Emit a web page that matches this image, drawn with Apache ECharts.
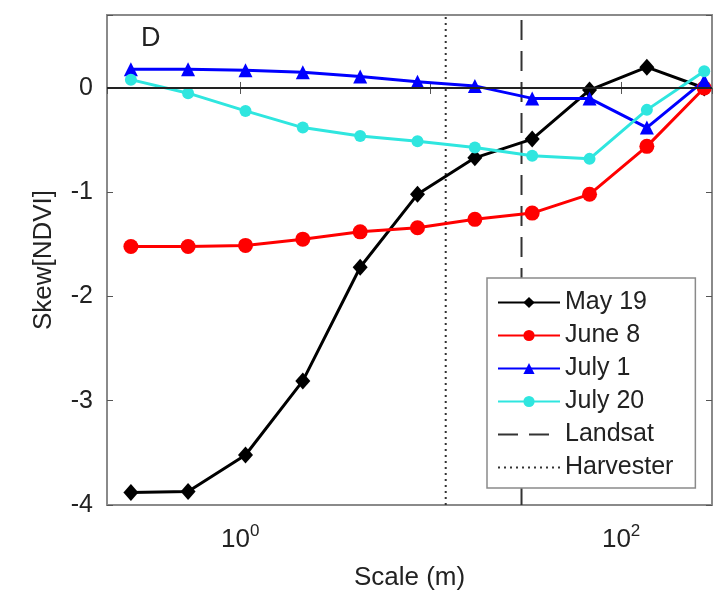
<!DOCTYPE html>
<html>
<head>
<meta charset="utf-8">
<script src="https://cdn.jsdelivr.net/npm/echarts@6/dist/echarts.min.js"></script>
<style>
  html, body { margin: 0; padding: 0; background: #fff; }
  #chart { width: 719px; height: 613px; }
</style>
</head>
<body>
<div id="chart"></div>
<script>
// Spatial scale of each aggregation step (m)
const scales = [0.267, 0.533, 1.067, 2.133, 4.267, 8.533, 17.07, 34.13, 68.27, 136.5, 273.1];

// Skewness of NDVI at each scale, per acquisition date
const may19  = [-3.88, -3.87, -3.52, -2.81, -1.72, -1.02, -0.67, -0.49, -0.02, 0.20, 0.00];
const june8  = [-1.52, -1.52, -1.51, -1.45, -1.38, -1.34, -1.26, -1.20, -1.02, -0.56, 0.00];
const july1  = [0.18, 0.18, 0.17, 0.15, 0.11, 0.06, 0.02, -0.10, -0.10, -0.38, 0.07];
const july20 = [0.08, -0.05, -0.22, -0.38, -0.46, -0.51, -0.57, -0.65, -0.68, -0.21, 0.16];

// Reference resolutions (m)
const landsat = 30;
const harvester = 12;

// Axis limits and tick labels
const xLimits = [0.2, 300];
const yLimits = [-4, 0.7];
const xTickLabels = { 1: '10{s|0}', 100: '10{s|2}' };

const FONT = 'Liberation Sans, Arial, Helvetica, sans-serif';
const TXT = '#222';

function pairs(xs, ys) { return xs.map((x, i) => [x, ys[i]]); }

const chart = echarts.init(document.getElementById('chart'), null, { renderer: 'canvas' });

const lineSeries = (name, ys, color, symbol, size) => ({
  name, type: 'line', data: pairs(scales, ys),
  symbol, symbolSize: size, showSymbol: true,
  lineStyle: { color, width: 3 },
  itemStyle: { color, borderWidth: 0 },
  emphasis: { disabled: true },
  animation: false
});

const vertical = (name, x, dash) => ({
  name, type: 'line', data: [[x, yLimits[0]], [x, yLimits[1]]],
  symbol: 'none',
  lineStyle: { color: '#333', width: 2, type: dash },
  itemStyle: { color: '#333' },
  emphasis: { disabled: true },
  animation: false, z: 1
});

const xTickFormatter = v => {
  const k = Math.round(v * 1e6) / 1e6;
  return xTickLabels[k] || '';
};

const option = {
  backgroundColor: '#fff',
  animation: false,
  title: {
    text: 'D', left: 136, top: 20,
    textStyle: { fontFamily: FONT, fontSize: 27, fontWeight: 'normal', color: TXT }
  },
  grid: {
    left: 107, right: 7, top: 15, bottom: 108,
    show: true, borderColor: '#8a8a8a', borderWidth: 2, backgroundColor: '#fff'
  },
  legend: {
    orient: 'vertical', left: 487, top: 278,
    padding: [12, 22, 8, 10],
    itemWidth: 62, itemHeight: 14, itemGap: 8,
    borderColor: '#8a8a8a', borderWidth: 1.5, backgroundColor: '#fff',
    textStyle: { fontFamily: FONT, fontSize: 25, color: TXT },
    data: [
      'May 19', 'June 8', 'July 1', 'July 20',
      { name: 'Landsat', itemStyle: { opacity: 0 } },
      { name: 'Harvester', itemStyle: { opacity: 0 } }
    ]
  },
  xAxis: [{
    type: 'log', logBase: 10, min: xLimits[0], max: xLimits[1],
    name: 'Scale (m)', nameLocation: 'middle', nameGap: 60,
    nameTextStyle: { fontFamily: FONT, fontSize: 26, color: TXT },
    axisLine: { show: true, lineStyle: { color: '#8a8a8a', width: 2 } },
    axisTick: { show: true, inside: true, length: 6, lineStyle: { color: '#555' } },
    splitLine: { show: false },
    axisLabel: {
      formatter: xTickFormatter, margin: 18,
      fontFamily: FONT, fontSize: 26, color: TXT,
      showMinLabel: false, showMaxLabel: false,
      rich: { s: { fontFamily: FONT, fontSize: 17, color: TXT, verticalAlign: 'top', padding: [0, 0, 16, 0] } }
    }
  }, {
    type: 'log', logBase: 10, min: xLimits[0], max: xLimits[1], position: 'top',
    axisLine: { show: false },
    axisTick: { show: true, inside: true, length: 6, lineStyle: { color: '#555' } },
    axisLabel: { show: false }, splitLine: { show: false }
  }],
  yAxis: [{
    type: 'value', min: yLimits[0], max: yLimits[1], interval: 1,
    name: 'Skew[NDVI]', nameLocation: 'middle', nameGap: 50,
    nameTextStyle: { fontFamily: FONT, fontSize: 26, color: TXT },
    axisLine: { show: true, lineStyle: { color: '#8a8a8a', width: 2 } },
    axisTick: { show: true, inside: true, length: 6, lineStyle: { color: '#555' } },
    splitLine: { show: false },
    axisLabel: {
      formatter: v => (Number.isInteger(v) ? String(v) : ''),
      margin: 14, fontFamily: FONT, fontSize: 25, color: TXT
    }
  }, {
    type: 'value', min: yLimits[0], max: yLimits[1], interval: 1, position: 'right',
    axisLine: { show: false },
    axisTick: { show: true, inside: true, length: 6, lineStyle: { color: '#555' } },
    axisLabel: { show: false }, splitLine: { show: false }
  }],
  series: [
    Object.assign(lineSeries('May 19', may19, '#000000', 'diamond', [15, 17]), {
      markLine: {
        silent: true, symbol: 'none', animation: false,
        label: { show: false },
        lineStyle: { color: '#222', width: 2, type: 'solid' },
        data: [{ yAxis: 0 }]
      }
    }),
    lineSeries('June 8', june8, '#ff0000', 'circle', 15),
    lineSeries('July 1', july1, '#0000ff', 'triangle', 14),
    lineSeries('July 20', july20, '#2fe6df', 'circle', 12),
    vertical('Landsat', landsat, [20, 11]),
    vertical('Harvester', harvester, [2, 4])
  ]
};

chart.setOption(option);
</script>
</body>
</html>
